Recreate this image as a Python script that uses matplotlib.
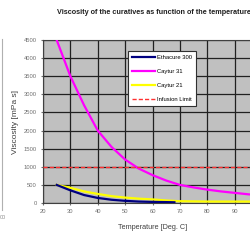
import matplotlib
matplotlib.use("Agg")
import matplotlib.pyplot as plt
from matplotlib.lines import Line2D

# -----------------------------
# datos
# -----------------------------
temp_eth = [25, 30, 35, 40, 45, 50, 55, 60, 65, 68]
visc_eth = [500, 350, 220, 140, 90, 60, 40, 30, 25, 20]

temp_c31 = [24, 25, 30, 35, 40, 45, 50, 55, 60, 65, 70, 75, 80, 85, 90, 95, 100]
visc_c31 = [4700, 4500, 3500, 2700, 2000, 1550, 1200, 950, 770, 620, 500, 430, 370, 320, 280, 240, 210]

temp_c21 = [25, 30, 35, 40, 45, 50, 55, 60, 65, 70, 80, 90, 100]
visc_c21 = [500, 420, 320, 250, 190, 150, 120, 100, 70, 50, 40, 40, 40]

temp_lim = [20, 100]
visc_lim = [1000, 1000]

x_ticks = [20, 30, 40, 50, 60, 70, 80, 90]
y_ticks = [0, 500, 1000, 1500, 2000, 2500, 3000, 3500, 4000, 4500]

plt.rcParams['font.family'] = ['Liberation Sans', 'DejaVu Sans']

fig = plt.figure(figsize=(2.5, 2.44), dpi=100)
fig.patch.set_facecolor('white')
ax = fig.add_axes([0.172, 0.168, 0.876, 0.668])
ax.set_facecolor('#c0c0c0')

ax.plot(temp_eth, visc_eth, color='#000080', lw=1.6, label='Ethacure 300', zorder=4)
ax.plot(temp_c31, visc_c31, color='#ff00ff', lw=1.6, label='Caytur 31', zorder=3)
ax.plot(temp_c21, visc_c21, color='#ffff00', lw=1.6, label='Caytur 21', zorder=3)
ax.plot(temp_lim, visc_lim, color='#ff3030', lw=1.0, ls=(0, (3, 1.5)), label='Infusion Limit', zorder=3)

ax.set_xlim(20, 100)
ax.set_ylim(0, 4500)
ax.set_xticks(x_ticks)
ax.set_yticks(y_ticks)
ax.grid(True, color='#202020', lw=0.9)
ax.axvline(100, color='#202020', lw=0.9, zorder=0.5)
ax.set_axisbelow(True)
ax.tick_params(labelsize=4.2, colors='#707070', length=1.5, pad=3)
for s in ax.spines.values():
    s.set_color('#404040')
    s.set_linewidth(0.8)

ax.set_xlabel('Temperature [Deg. C]', fontsize=5.2, color='#404040', labelpad=7)
ax.set_ylabel('Viscosity [mPa s]', fontsize=6, color='#404040', labelpad=3)

fig.text(57 / 250, 0.95, 'Viscosity of the curatives as function of the temperature',
         fontsize=5.2, ha='left', va='center', color='#202020', fontweight='bold')

leg = ax.legend(loc='upper left', bbox_to_anchor=(125 / 250, 1 - 48 / 244),
                bbox_transform=fig.transFigure, fontsize=4.2, frameon=True,
                fancybox=False, edgecolor='#303030', facecolor='white',
                framealpha=1, handlelength=4, borderpad=0.7, labelspacing=1.5,
                handletextpad=0.3)
leg.get_frame().set_linewidth(0.8)

# trozo de otro grafico a la izquierda
fig.add_artist(Line2D([0.008, 0.008], [0.14, 0.84], color='#b0b0b0', lw=0.8,
                      transform=fig.transFigure))
fig.text(0.0, 0.11, '00', fontsize=4, color='#909090', ha='left', va='center')

plt.savefig('out.png', dpi=100)
